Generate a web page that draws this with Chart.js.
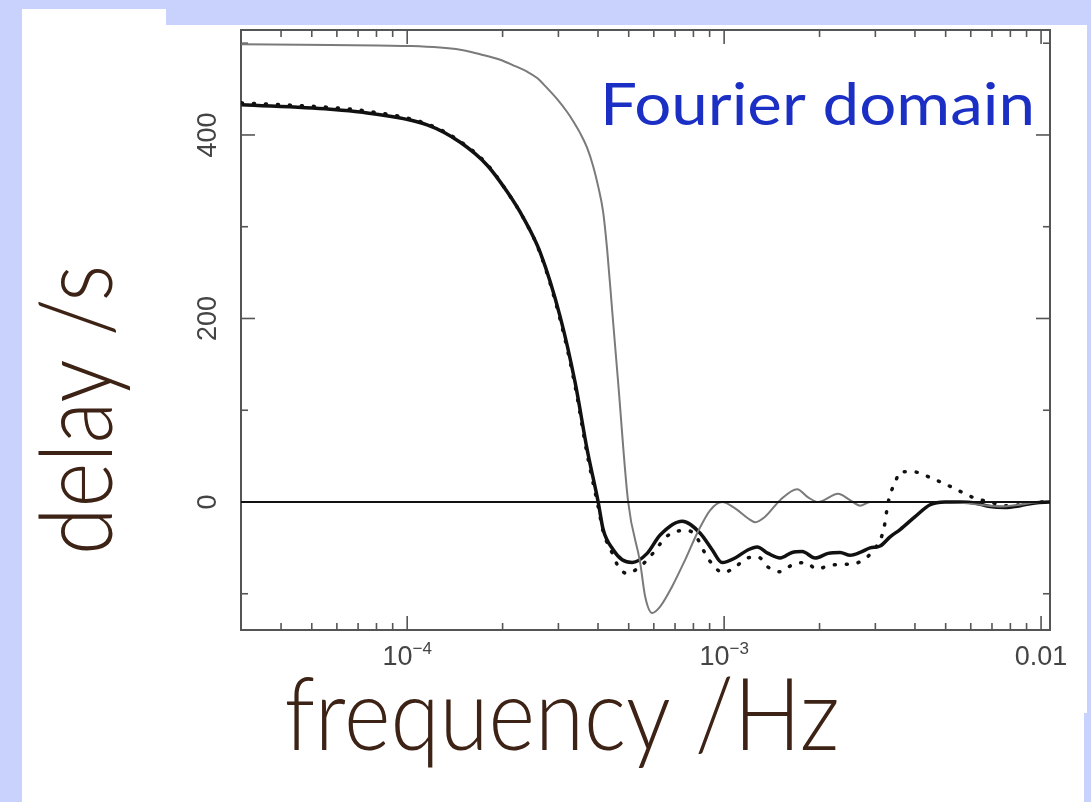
<!DOCTYPE html>
<html>
<head>
<meta charset="utf-8">
<script src="https://cdn.jsdelivr.net/npm/chart.js@4.4.0/dist/chart.umd.min.js"></script>
<style>
  body { margin: 0; background: #c8d2fc; width: 1091px; height: 802px; overflow: hidden; position: relative; }
  .white { position: absolute; background: #fff; }
  #chart { position: absolute; left: 0; top: 0; }
</style>
</head>
<body>
<div class="white" style="left:22px;top:9px;width:144px;height:793px"></div>
<div class="white" style="left:22px;top:25px;width:1065px;height:688px"></div>
<div class="white" style="left:22px;top:713px;width:1062px;height:89px"></div>
<canvas id="chart" width="1091" height="802"></canvas>
<script>
// axis range
var xRange = [2.99e-5, 1.067e-2];
var yRange = [-139.5, 514.4];

// thin grey curve
var greyFreq = [3.0e-5, 5.72e-5, 1.0e-4, 1.47e-4, 1.699e-4, 1.965e-4, 2.192e-4, 2.39e-4, 2.571e-4, 2.765e-4,
  2.973e-4, 3.197e-4, 3.34e-4, 3.514e-4, 3.697e-4, 3.862e-4, 4.005e-4, 4.153e-4, 4.275e-4, 4.433e-4,
  4.631e-4, 4.98e-4, 5.433e-4, 5.634e-4, 5.928e-4, 6.282e-4, 6.855e-4, 7.534e-4, 8.221e-4, 9.03e-4,
  9.856e-4, 1.083e-3, 1.191e-3, 1.253e-3, 1.347e-3, 1.502e-3, 1.7e-3, 1.841e-3, 1.98e-3, 2.289e-3,
  2.497e-3, 2.685e-3, 2.888e-3, 3.591e-3, 5.163e-3, 6.42e-3, 7.425e-3, 8.587e-3, 9.93e-3, 1.067e-2];
var greyDelay = [499, 498, 497, 493, 488, 482, 475, 469, 462, 451,
  439, 425, 415, 402, 386, 366, 344, 316, 275, 209,
  130, 0, -66, -103, -121, -114, -92, -63, -34, -9,
  0, -7, -18, -22, -16, 2, 14, 5, 0, 9,
  2, -4, 0, 0, 0, -3, -5, -3, 0, 0];

// thick black curve
var solidFreq = [3.0e-5, 5.72e-5, 7.11e-5, 1.156e-4, 1.47e-4, 1.788e-4, 2.068e-4, 2.323e-4, 2.628e-4, 3.038e-4,
  3.388e-4, 3.697e-4, 4.005e-4, 4.153e-4, 4.466e-4, 4.767e-4, 5.126e-4, 5.717e-4, 6.282e-4, 7.371e-4,
  8.403e-4, 9.166e-4, 9.856e-4, 1.083e-3, 1.191e-3, 1.271e-3, 1.377e-3, 1.502e-3, 1.639e-3, 1.763e-3,
  1.937e-3, 2.129e-3, 2.323e-3, 2.497e-3, 2.685e-3, 2.888e-3, 3.105e-3, 3.339e-3, 3.591e-3, 4.005e-3,
  4.466e-3, 4.98e-3, 5.553e-3, 6.192e-3, 6.905e-3, 7.7e-3, 8.587e-3, 9.575e-3, 1.067e-2];
var solidDelay = [433, 428, 425, 411, 392, 367, 338, 310, 272, 202,
  130, 57, 0, -30, -52, -63, -66, -56, -36, -21,
  -34, -52, -66, -61, -52, -49, -56, -61, -55, -54,
  -61, -56, -55, -58, -55, -50, -48, -38, -30, -16,
  -3, 0, 0, -1, -5, -6, -4, -1, 0];

// dotted curve
var dotFreq = [3.0e-5, 5.72e-5, 7.11e-5, 1.156e-4, 1.47e-4, 1.788e-4, 2.068e-4, 2.323e-4, 2.628e-4, 3.038e-4,
  3.388e-4, 3.697e-4, 4.005e-4, 4.153e-4, 4.466e-4, 4.597e-4, 4.943e-4, 5.355e-4, 5.759e-4, 6.147e-4,
  6.515e-4, 7.06e-4, 7.645e-4, 8.1e-4, 8.711e-4, 9.233e-4, 9.927e-4, 1.083e-3, 1.182e-3, 1.281e-3,
  1.377e-3, 1.502e-3, 1.651e-3, 1.801e-3, 1.965e-3, 2.16e-3, 2.374e-3, 2.59e-3, 2.847e-3, 3.016e-3,
  3.151e-3, 3.22e-3, 3.267e-3, 3.339e-3, 3.463e-3, 3.591e-3, 3.947e-3, 4.37e-3, 4.802e-3, 5.24e-3,
  5.675e-3, 6.192e-3, 6.905e-3, 7.7e-3, 8.587e-3, 9.93e-3, 1.067e-2];
var dotDelay = [435, 430, 427, 412, 393, 368, 338, 310, 271, 199,
  126, 52, -5, -32, -58, -68, -78, -72, -62, -50,
  -39, -32, -31, -36, -56, -69, -77, -71, -61, -60,
  -71, -76, -68, -66, -73, -69, -68, -67, -59, -49,
  -36, -22, -7, 8, 21, 33, 33, 28, 22, 16,
  10, 4, 0, -4, -3, 0, 0];

// zero line
var zeroFreq = [2.99e-5, 1.067e-2];
var zeroDelay = [0, 0];

// ticks
var xMajorTicks = [1e-4, 1e-3, 1e-2];
var xMinorTicks = [4e-5, 5e-5, 6e-5, 7e-5, 8e-5, 9e-5,
  2e-4, 3e-4, 4e-4, 5e-4, 6e-4, 7e-4, 8e-4, 9e-4,
  2e-3, 3e-3, 4e-3, 5e-3, 6e-3, 7e-3, 8e-3, 9e-3];
var xTickBase = ['10', '10', '0.01'];
var xTickExp = ['\u22124', '\u22123', ''];
var yMajorTicks = [0, 200, 400];
var yMinorTicks = [-100, 100, 300, 500];
var yTickLabels = ['0', '200', '400'];

function points(xs, ys) {
  var out = [];
  for (var i = 0; i < xs.length; i++) out.push({ x: xs[i], y: ys[i] });
  return out;
}

function seg(ctx, x1, y1, x2, y2) {
  ctx.beginPath();
  ctx.moveTo(x1, y1);
  ctx.lineTo(x2, y2);
  ctx.stroke();
}

// frame and inward ticks, under the curves
var framePlugin = {
  id: 'frame',
  beforeDatasetsDraw: function (chart) {
    var ctx = chart.ctx;
    var a = chart.chartArea;
    var xs = chart.scales.x, ys = chart.scales.y;
    ctx.save();
    ctx.strokeStyle = '#555';
    ctx.lineWidth = 2;
    ctx.strokeRect(a.left, a.top, a.right - a.left, a.bottom - a.top);

    ctx.lineWidth = 1.6;
    xMinorTicks.forEach(function (v) {
      var px = xs.getPixelForValue(v);
      seg(ctx, px, a.bottom, px, a.bottom - 7);
      seg(ctx, px, a.top, px, a.top + 7);
    });
    xMajorTicks.forEach(function (v) {
      var px = xs.getPixelForValue(v);
      seg(ctx, px, a.bottom, px, a.bottom - 14);
      seg(ctx, px, a.top, px, a.top + 14);
    });
    yMinorTicks.forEach(function (v) {
      var py = ys.getPixelForValue(v);
      seg(ctx, a.left, py, a.left + 7, py);
      seg(ctx, a.right, py, a.right - 7, py);
    });
    yMajorTicks.forEach(function (v) {
      var py = ys.getPixelForValue(v);
      seg(ctx, a.left, py, a.left + 14, py);
      seg(ctx, a.right, py, a.right - 14, py);
    });
    ctx.restore();
  },
  // labels and titles
  afterDatasetsDraw: function (chart) {
    var ctx = chart.ctx;
    var a = chart.chartArea;
    var xs = chart.scales.x, ys = chart.scales.y;
    ctx.save();
    ctx.fillStyle = '#444';
    ctx.textBaseline = 'alphabetic';
    ctx.textAlign = 'left';
    xMajorTicks.forEach(function (v, i) {
      var px = xs.getPixelForValue(v);
      ctx.font = '27px "Liberation Sans", Arial, sans-serif';
      var w1 = ctx.measureText(xTickBase[i]).width;
      ctx.font = '17px "Liberation Sans", Arial, sans-serif';
      var w2 = xTickExp[i] ? ctx.measureText(xTickExp[i]).width : 0;
      var x0 = px - (w1 + w2) / 2;
      ctx.font = '27px "Liberation Sans", Arial, sans-serif';
      ctx.fillText(xTickBase[i], x0, a.bottom + 35);
      if (xTickExp[i]) {
        ctx.font = '17px "Liberation Sans", Arial, sans-serif';
        ctx.fillText(xTickExp[i], x0 + w1, a.bottom + 24);
      }
    });
    ctx.font = '27px "Liberation Sans", Arial, sans-serif';
    ctx.textAlign = 'center';
    ctx.textBaseline = 'middle';
    yMajorTicks.forEach(function (v, i) {
      var py = ys.getPixelForValue(v);
      ctx.save();
      ctx.translate(a.left - 32, py);
      ctx.rotate(-Math.PI / 2);
      ctx.fillText(yTickLabels[i], 0, 0);
      ctx.restore();
    });

    // axis titles
    ctx.fillStyle = '#3d2316';
    ctx.textBaseline = 'alphabetic';
    ctx.textAlign = 'center';
    ctx.font = '300 100px Lato, "Open Sans", sans-serif';
    var t = 'frequency /Hz';
    var s = 555 / ctx.measureText(t).width;
    ctx.save();
    ctx.translate(562, 750);
    ctx.scale(s, 1);
    ctx.fillText(t, 0, 0);
    ctx.restore();

    t = 'delay /s';
    s = 290 / ctx.measureText(t).width;
    ctx.save();
    ctx.translate(112, 410);
    ctx.rotate(-Math.PI / 2);
    ctx.scale(s, 1);
    ctx.fillText(t, 0, 0);
    ctx.restore();

    // panel label
    ctx.fillStyle = '#1b2fc4';
    ctx.textAlign = 'left';
    ctx.font = '400 58px Lato, "Open Sans", sans-serif';
    t = 'Fourier domain';
    s = 435 / ctx.measureText(t).width;
    ctx.save();
    ctx.translate(600, 125);
    ctx.scale(s, 1);
    ctx.fillText(t, 0, 0);
    ctx.restore();

    ctx.restore();
  }
};

var ctx = document.getElementById('chart').getContext('2d');
var chart = new Chart(ctx, {
  type: 'line',
  data: {
    datasets: [
      { data: points(zeroFreq, zeroDelay), borderColor: '#111', borderWidth: 2 },
      { data: points(greyFreq, greyDelay), borderColor: '#7a7a7a', borderWidth: 2 },
      { data: points(solidFreq, solidDelay), borderColor: '#111', borderWidth: 3.5 },
      { data: points(dotFreq, dotDelay), borderColor: '#111', borderWidth: 3.5,
        borderDash: [1, 11], borderCapStyle: 'round' }
    ]
  },
  options: {
    responsive: false,
    animation: false,
    events: [],
    layout: { padding: { left: 241, top: 30, right: 41, bottom: 172 } },
    elements: {
      point: { radius: 0 },
      line: { cubicInterpolationMode: 'monotone', fill: false }
    },
    plugins: { legend: { display: false }, tooltip: { enabled: false } },
    scales: {
      x: { type: 'logarithmic', min: xRange[0], max: xRange[1], display: false },
      y: { type: 'linear', min: yRange[0], max: yRange[1], display: false }
    }
  },
  plugins: [framePlugin]
});
</script>
</body>
</html>
